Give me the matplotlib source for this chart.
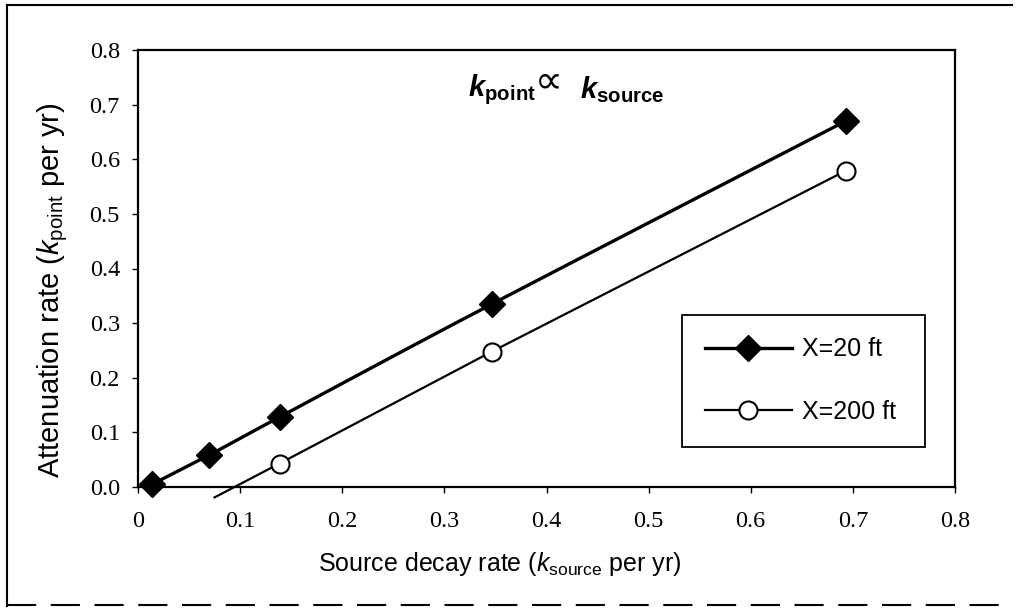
import numpy as np
import matplotlib
matplotlib.use('Agg')
import matplotlib.pyplot as plt
from matplotlib.lines import Line2D

# source decay rate (ln2 / half-life) and point attenuation rate
k_source_20 = [0.0139, 0.0693, 0.1386, 0.3466, 0.6931]
k_point_20 = [0.005, 0.058, 0.128, 0.335, 0.670]
k_source_200 = [0.1386, 0.3466, 0.6931]
k_point_200 = [0.043, 0.248, 0.579]
# the 200 ft line is carried on below zero in the figure
trend_x_200 = [0.075, 0.1386]
trend_y_200 = [-0.019, 0.043]

series_labels = ['X=20 ft', 'X=200 ft']
x_ticks = [0.0, 0.1, 0.2, 0.3, 0.4, 0.5, 0.6, 0.7, 0.8]
x_tick_labels = ['0', '0.1', '0.2', '0.3', '0.4', '0.5', '0.6', '0.7', '0.8']
y_ticks = [0.0, 0.1, 0.2, 0.3, 0.4, 0.5, 0.6, 0.7, 0.8]
y_tick_labels = ['0.0', '0.1', '0.2', '0.3', '0.4', '0.5', '0.6', '0.7', '0.8']

plt.rcParams['font.family'] = 'Liberation Sans'
plt.rcParams['mathtext.fontset'] = 'custom'
plt.rcParams['mathtext.rm'] = 'Liberation Sans'
plt.rcParams['mathtext.it'] = 'Liberation Sans:italic'
plt.rcParams['mathtext.bf'] = 'Liberation Sans:bold'
plt.rcParams['mathtext.bfit'] = 'Liberation Sans:italic:bold'


def smooth(xs, ys, n=40):
    # excel style smoothed line (bezier through the points)
    p = np.column_stack([xs, ys])
    p = np.vstack([p[0], p, p[-1]])
    t = np.linspace(0, 1, n)[:, None]
    out = []
    for i in range(1, len(p) - 2):
        p0, p1, p2, p3 = p[i - 1], p[i], p[i + 1], p[i + 2]
        c1 = p1 + (p2 - p0) / 6
        c2 = p2 - (p3 - p1) / 6
        out.append((1 - t)**3 * p1 + 3 * (1 - t)**2 * t * c1 + 3 * (1 - t) * t**2 * c2 + t**3 * p2)
    c = np.vstack(out)
    return c[:, 0], c[:, 1]


fig = plt.figure(figsize=(10.23, 6.08), dpi=100)
ax = fig.add_axes([138 / 1023, 1 - 487 / 608, 817 / 1023, 437 / 608])

sx, sy = smooth(k_source_20, k_point_20)
ax.plot(sx, sy, color='black', lw=2.4)
ax.plot(k_source_20, k_point_20, ls='none', marker='D', ms=13, color='black', clip_on=False, zorder=5)

ax.plot(k_source_200, k_point_200, color='black', lw=1.6)
ax.plot(trend_x_200, trend_y_200, color='black', lw=1.6, clip_on=False)
ax.plot(k_source_200, k_point_200, ls='none', marker='o', ms=13, mfc='white', mec='black', mew=1.5, zorder=5)

ax.set_xlim(0, 0.8)
ax.set_ylim(0, 0.8)
ax.set_xticks(x_ticks)
ax.set_xticklabels(x_tick_labels, fontfamily='Liberation Serif', fontsize=17.5)
ax.set_yticks(y_ticks)
ax.set_yticklabels(y_tick_labels, fontfamily='Liberation Serif', fontsize=17.5)
ax.tick_params(axis='x', direction='out', length=4, width=1, pad=13)
ax.tick_params(axis='y', direction='out', length=4, width=1, pad=9)
for s in ax.spines.values():
    s.set_linewidth(1.6)

ax.set_xlabel(r'Source decay rate ($\mathit{k}_{\mathrm{source}}$ per yr)', fontsize=18)
ax.xaxis.set_label_coords(0.443, -0.145)
ax.set_ylabel(r'Attenuation rate ($\mathit{k}_{\mathrm{point}}$ per yr)', fontsize=21)
ax.yaxis.set_label_coords(-0.083, 0.45)

# title made of three pieces so the proportional sign can be larger
ax.text(0.323, 0.727, r'$\mathbfit{k}_{\mathbf{point}}$', fontsize=21, ha='left', va='center')
ax.text(0.389, 0.742, '\u221d', fontsize=28, ha='left', va='center', family='DejaVu Sans')
ax.text(0.433, 0.727, r'$\mathbfit{k}_{\mathbf{source}}$', fontsize=21, ha='left', va='center')

handles = [Line2D([], [], color='black', lw=2.4, marker='D', ms=13),
           Line2D([], [], color='black', lw=1.6, marker='o', ms=13, mfc='white', mec='black', mew=1.5)]
leg = ax.legend(handles, series_labels, loc='upper left', bbox_to_anchor=(0.666, 0.087, 0.297, 0.307),
                mode='expand', borderaxespad=0, fancybox=False, edgecolor='black', framealpha=1,
                fontsize=18, handlelength=3.5, handletextpad=0.4, labelspacing=1.55, borderpad=0.9)
leg.get_frame().set_linewidth(1.3)

# outer frame of the figure
W, H = 1023, 608
fig.add_artist(Line2D([7 / W, 7 / W], [1 - 5 / H, 1 - 606 / H], color='black', lw=1.5))
fig.add_artist(Line2D([7 / W, 1012 / W], [1 - 5 / H, 1 - 5 / H], color='black', lw=1.5))
fig.add_artist(Line2D([7 / W, 1012 / W], [1 - 605 / H, 1 - 605 / H], color='black', lw=1.5, ls=(0, (14, 7))))

fig.savefig('out.png', dpi=100)
